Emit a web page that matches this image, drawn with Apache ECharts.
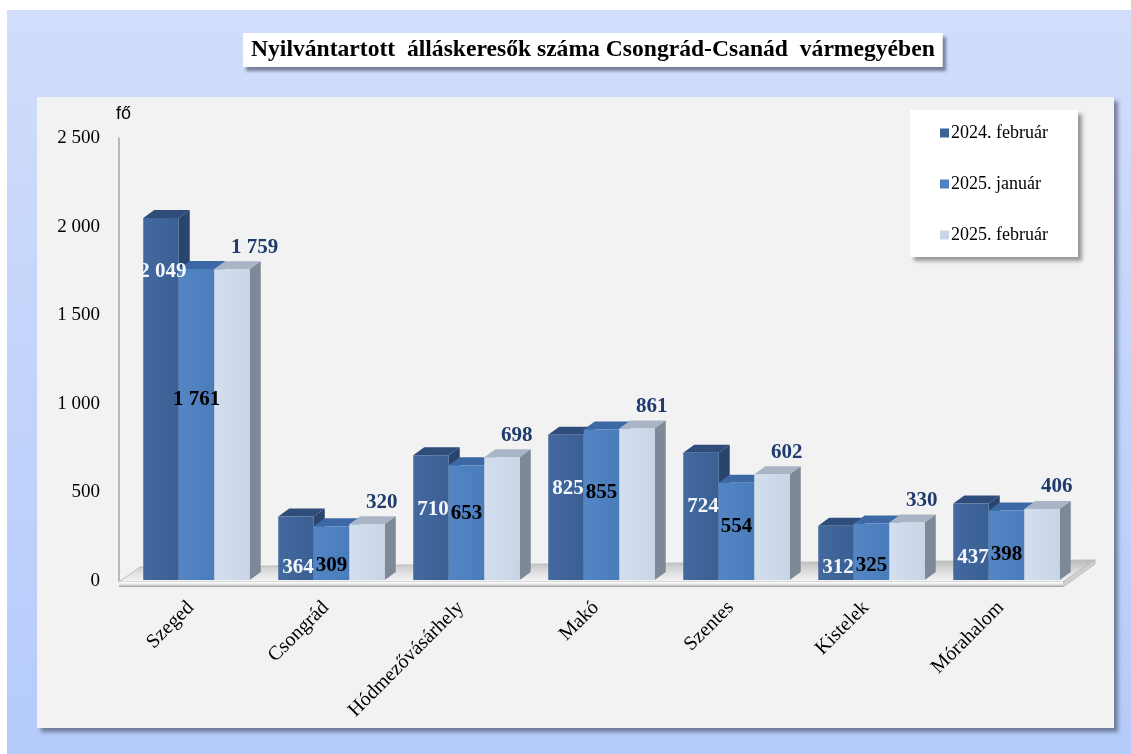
<!DOCTYPE html>
<html>
<head>
<meta charset="utf-8">
<script src="https://cdn.jsdelivr.net/npm/echarts@6/dist/echarts.min.js"></script>
<style>
html,body{margin:0;padding:0;background:#ffffff;}
#c{width:1131px;height:754px;}
</style>
</head>
<body>
<div id="c"></div>
<script>
const categories = ['Szeged', 'Csongrád', 'Hódmezővásárhely', 'Makó', 'Szentes', 'Kistelek', 'Mórahalom'];
const seriesNames = ['2024. február', '2025. január', '2025. február'];
const feb2024 = [2049, 364, 710, 825, 724, 312, 437];
const jan2025 = [1761, 309, 653, 855, 554, 325, 398];
const feb2025 = [1759, 320, 698, 861, 602, 330, 406];
const yMin = 0, yMax = 2500, yInterval = 500;
const titleText = 'Nyilvántartott  álláskeresők száma Csongrád-Csanád  vármegyében';
const yName = 'fő';

const SERIF = '"Liberation Serif", "Times New Roman", serif';
const SANS = '"Liberation Sans", Arial, sans-serif';
const fmt = v => String(v).replace(/\B(?=(\d{3})+(?!\d))/g, ' ');

const DX = 11, DY = -8;
const palettes = [
  {front: ['#44699f', '#3a5f93'], top: '#2f4d7a', side: '#2a456d', legend: '#3e6399', label: '#f4f7fc'},
  {front: ['#5486c6', '#4a7cba'], top: '#3c69a6', side: '#39629a', legend: '#4f81bd', label: '#000000'},
  {front: ['#d3dfee', '#c8d5e7'], top: '#a9b5c5', side: '#7d8997', legend: '#c9d6e8', label: '#1f3b6e'}
];

function makeRender(si) {
  const pal = palettes[si];
  return function (params, api) {
    const ci = api.value(0), val = api.value(1);
    const base = api.coord([ci, 0]);
    const topP = api.coord([ci, val]);
    const band = api.size([1, 0])[0];
    const bw = band * 0.263;
    const x0 = base[0] + (si - 1.5) * bw;
    const x1 = x0 + bw;
    const yb = base[1] - 1;
    const yt = topP[1];
    const h = yb - yt;
    const children = [
      {type: 'polygon', z2: si * 3 + 1,
        shape: {points: [[x0, yt], [x1, yt], [x1 + DX, yt + DY], [x0 + DX, yt + DY]]},
        style: {fill: pal.top}},
      {type: 'polygon', z2: si * 3 + 1,
        shape: {points: [[x1, yt], [x1 + DX, yt + DY], [x1 + DX, yb + DY], [x1, yb]]},
        style: {fill: pal.side}},
      {type: 'rect', z2: si * 3 + 2,
        shape: {x: x0, y: yt, width: bw, height: h},
        style: {fill: new echarts.graphic.LinearGradient(0, 0, 1, 0, [
          {offset: 0, color: pal.front[0]}, {offset: 1, color: pal.front[1]}])}}
    ];
    let lx, ly, al = 'center';
    if (si === 0) {
      lx = (x0 + x1) / 2 + 2;
      ly = Math.min(yt + 54, yb - 12);
    } else if (si === 1) {
      lx = (x0 + x1) / 2;
      ly = Math.min(yt + Math.max(0.42 * h, 44), yb - 14);
    } else {
      lx = (x0 + x1) / 2 - 1;
      ly = yt - 22;
      al = 'left';
    }
    children.push({
      type: 'text', z2: 100,
      style: {
        text: fmt(val), x: lx, y: ly, align: al, verticalAlign: 'middle',
        fill: pal.label, font: 'bold 21px ' + SERIF,
        shadowBlur: si === 1 ? 0 : 3,
        shadowColor: si === 0 ? 'rgba(170,200,240,0.9)' : 'rgba(255,255,255,0.9)'
      }
    });
    return {type: 'group', children: children};
  };
}

function renderFloor(params, api) {
  const cs = params.coordSys;
  const yF = cs.y + cs.height + 1;
  const xL = cs.x - 10;
  const xR = cs.x + cs.width - 11;
  const top = [[xL, yF], [xR, yF], [xR + 32, yF - 22], [xL + 21, yF - 15]];
  const front = [[xL, yF], [xR, yF], [xR, yF + 5], [xL, yF + 5]];
  const right = [[xR, yF], [xR + 32, yF - 22], [xR + 32, yF - 18], [xR, yF + 5]];
  return {type: 'group', children: [
    {type: 'polygon', shape: {points: top},
      style: {fill: new echarts.graphic.LinearGradient(0, 1, 0, 0, [
        {offset: 0, color: '#f7f7f7'}, {offset: 0.5, color: '#dcdcdc'}, {offset: 1, color: '#b8b8b8'}]),
        stroke: '#bdbdbd', lineWidth: 1}},
    {type: 'polygon', shape: {points: right}, style: {fill: '#d0d0d0', stroke: '#bdbdbd', lineWidth: 1}},
    {type: 'polygon', shape: {points: front},
      style: {fill: new echarts.graphic.LinearGradient(0, 0, 0, 1, [
        {offset: 0, color: '#ffffff'}, {offset: 0.5, color: '#e2e2e2'}, {offset: 1, color: '#9c9c9c'}])}}
  ]};
}

const seriesData = [feb2024, jan2025, feb2025];
const chart = echarts.init(document.getElementById('c'), null, {renderer: 'canvas'});

const option = {
  animation: false,
  graphic: [
    {type: 'rect', z: -10, shape: {x: 7, y: 10, width: 1124, height: 744},
      style: {fill: new echarts.graphic.LinearGradient(0, 0, 0, 1, [
        {offset: 0, color: '#d1ddfb'}, {offset: 1, color: '#b4cbfb'}])}},
    {type: 'rect', z: -9, shape: {x: 37, y: 97, width: 1077, height: 631},
      style: {fill: '#f2f2f2', shadowBlur: 4, shadowOffsetX: 4, shadowOffsetY: 4, shadowColor: 'rgba(70,80,100,0.65)'}}
  ],
  title: {
    text: titleText, left: 243, top: 33,
    backgroundColor: '#ffffff', padding: [5, 8, 5, 8],
    shadowBlur: 3, shadowOffsetX: 3, shadowOffsetY: 4, shadowColor: 'rgba(40,50,70,0.55)',
    textStyle: {fontFamily: SERIF, fontWeight: 'bold', fontSize: 23.6, color: '#000'}
  },
  legend: {
    orient: 'vertical', left: 910, top: 110,
    padding: [14, 30, 13, 30], itemGap: 33, itemWidth: 9, itemHeight: 9, icon: 'rect',
    backgroundColor: '#ffffff',
    shadowBlur: 4, shadowOffsetX: 4, shadowOffsetY: 4, shadowColor: 'rgba(60,60,60,0.5)',
    textStyle: {fontFamily: SERIF, fontSize: 18, color: '#000', padding: [0, 0, 0, -3]},
    data: seriesNames
  },
  grid: {left: 129, right: 57, top: 138, bottom: 173},
  xAxis: {
    type: 'category', data: categories,
    axisLine: {show: false}, axisTick: {show: false}, splitLine: {show: false},
    axisLabel: {rotate: 45, margin: 18, interval: 0, fontFamily: SERIF, fontSize: 20, color: '#000', padding: [0, 8, 0, 0]}
  },
  yAxis: {
    type: 'value', min: yMin, max: yMax, interval: yInterval, offset: 10,
    name: yName, nameLocation: 'end', nameGap: 24,
    nameTextStyle: {fontFamily: SANS, fontSize: 18, color: '#000', align: 'left', verticalAlign: 'middle', padding: [0, 0, 0, -3]},
    axisLine: {show: true, lineStyle: {color: '#a6a6a6', width: 1.5}},
    axisTick: {show: false}, splitLine: {show: false},
    axisLabel: {margin: 19, fontFamily: SERIF, fontSize: 19, color: '#000', formatter: v => fmt(v)}
  },
  series: [
    {type: 'custom', name: '__floor', silent: true, z: 1, data: [[0, 0]], renderItem: renderFloor, encode: {x: 0, y: 1}}
  ].concat(seriesData.map((arr, si) => ({
    type: 'custom', name: seriesNames[si], z: 2,
    itemStyle: {color: palettes[si].legend},
    data: arr.map((v, i) => [i, v]),
    encode: {x: 0, y: 1},
    renderItem: makeRender(si)
  })))
};
chart.setOption(option);
</script>
</body>
</html>
